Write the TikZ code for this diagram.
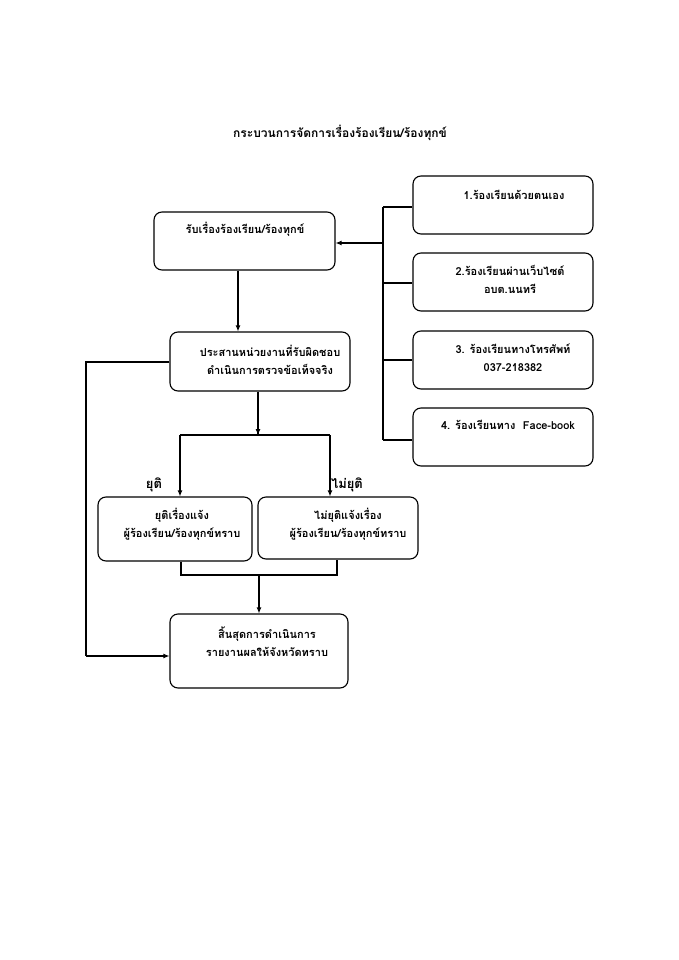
\documentclass[tikz,border=0pt]{standalone}
\usepackage{fontspec}
\newfontfamily\thai[Script=Thai]{Loma}
\usetikzlibrary{arrows.meta}
\begin{document}
\begin{tikzpicture}[x=1pt,y=-1pt,
  box/.style={draw, line width=1.1pt, rounded corners=8pt, inner sep=0pt},
  txt/.style={font=\thai\bfseries\fontsize{11}{18}\selectfont, align=center, inner sep=0pt},
  lbl/.style={font=\thai\bfseries\fontsize{13}{15}\selectfont, inner sep=0pt},
  ln/.style={line width=1.1pt},
  arr/.style={line width=1.1pt, -{Latex[length=6pt,width=5pt]}}]
\useasboundingbox (0,0) rectangle (679,960);
\node[txt, font=\thai\bfseries\fontsize{12}{14}\selectfont] (title) at (340,133) {กระบวนการจัดการเรื่องร้องเรียน/ร้องทุกข์};
% boxes
\node[box, minimum width=181pt, minimum height=58pt] (A) at (244.5,241) {};
\node[txt] (At) at (245,229) {รับเรื่องร้องเรียน/ร้องทุกข์};
\node[box, minimum width=180pt, minimum height=58pt] (B1) at (503,205) {};
\node[txt] (B1t) at (514,195) {1.ร้องเรียนด้วยตนเอง};
\node[box, minimum width=180pt, minimum height=58pt] (B2) at (503,282) {};
\node[txt] (B2t) at (510,279) {2.ร้องเรียนผ่านเว็บไซต์\\อบต.นนทรี};
\node[box, minimum width=180pt, minimum height=58pt] (B3) at (503,360) {};
\node[txt] (B3t) at (513,358) {3. ร้องเรียนทางโทรศัพท์\\037-218382};
\node[box, minimum width=180pt, minimum height=58pt] (B4) at (503,437) {};
\node[txt] (B4t) at (508,425) {4. ร้องเรียนทาง\ \ Face-book};
\node[box, minimum width=180pt, minimum height=59pt] (C) at (260,361.5) {};
\node[txt] (Ct) at (270,360) {ประสานหน่วยงานที่รับผิดชอบ\\ดำเนินการตรวจข้อเท็จจริง};
\node[box, minimum width=154pt, minimum height=64pt] (D) at (175,529) {};
\node[txt] (Dt) at (182,524) {ยุติเรื่องแจ้ง\\ผู้ร้องเรียน/ร้องทุกข์ทราบ};
\node[box, minimum width=160pt, minimum height=62pt] (E) at (338,528) {};
\node[txt] (Et) at (348,524) {ไม่ยุติแจ้งเรื่อง\\ผู้ร้องเรียน/ร้องทุกข์ทราบ};
\node[box, minimum width=178pt, minimum height=74pt] (F) at (259,651) {};
\node[txt] (Ft) at (267,641.5) {สิ้นสุดการดำเนินการ\\รายงานผลให้จังหวัดทราบ};
\node[lbl] (L1) at (154,485) {ยุติ};
\node[lbl] (L2) at (347,485) {ไม่ยุติ};
% right bus
\coordinate (bt) at (383,207);
\coordinate (bb) at (383,440);
\coordinate (bm) at (383,243);
\draw[ln] (bt) -- (bb);
\draw[ln] (bt) -- (bt -| B1.west);
\draw[ln] (383,283) -- (B2.west |- 0,283);
\draw[ln] (383,360) -- (B3.west |- 0,360);
\draw[ln] (bb) -- (bb -| B4.west);
\draw[arr] (bm) -- (bm -| A.east);
% main flow
\draw[arr] (A.south -| 238,0) -- (C.north -| 238,0);
\coordinate (s1) at (258,435);
\coordinate (sl) at (180,435);
\coordinate (sr) at (330,435);
\draw[ln] (C.south -| s1) -- (s1);
\draw[ln] (sl) -- (sr);
\draw[arr] (258,400) -- (s1);
\draw[arr] (sl) -- (sl |- D.north);
\draw[arr] (sr) -- (sr |- E.north);
\coordinate (jl) at (181,575);
\coordinate (jr) at (337,575);
\coordinate (jm) at (259,575);
\draw[ln] (D.south -| jl) -- (jl) -- (jr) -- (E.south -| jr);
\draw[arr] (jm) -- (jm |- F.north);
% left loop
\coordinate (lt) at (86,362);
\coordinate (lb) at (86,656);
\draw[ln] (C.west |- lt) -- (lt) -- (lb);
\draw[arr] (lb) -- (lb -| F.west);
\end{tikzpicture}
\end{document}
